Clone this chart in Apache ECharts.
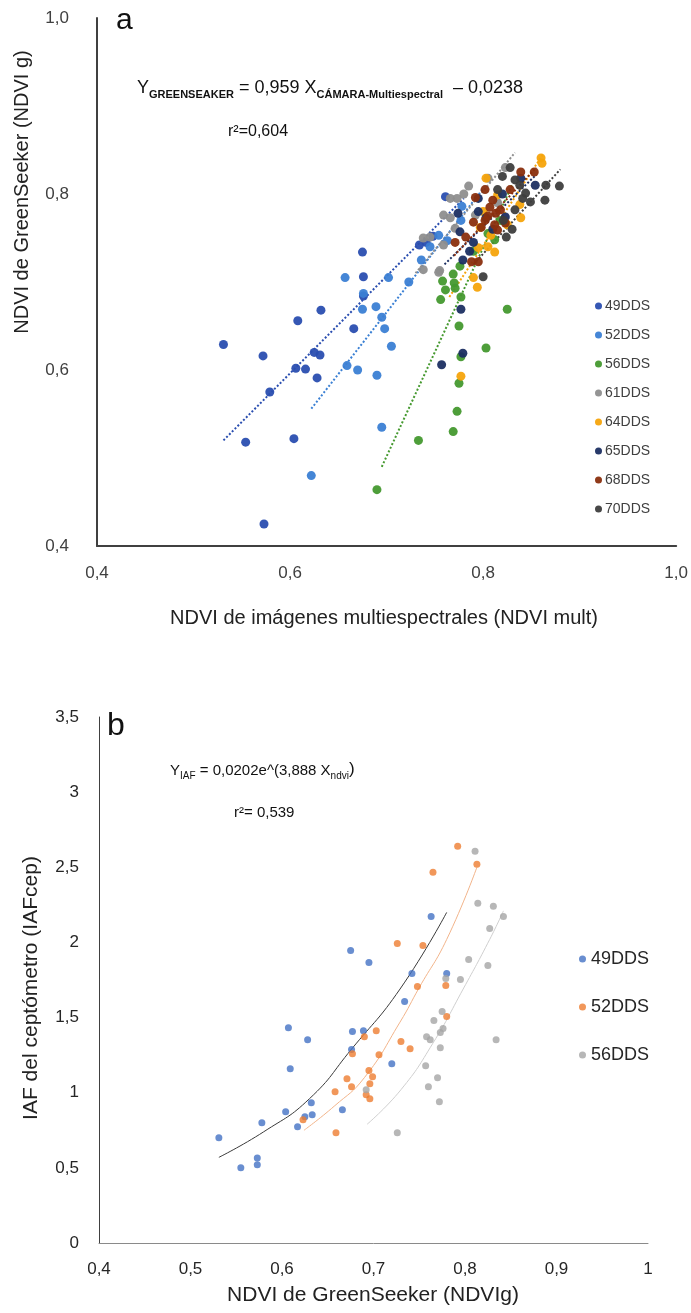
<!DOCTYPE html>
<html>
<head>
<meta charset="utf-8">
<script src="https://cdn.jsdelivr.net/npm/echarts@6/dist/echarts.min.js"></script>
<style>
html,body{margin:0;padding:0;background:#fff;}
#chartA{position:absolute;left:0;top:0;width:691px;height:650px;}
#chartB{position:absolute;left:0;top:650px;width:691px;height:663px;}
</style>
</head>
<body>
<div id="chartA"></div>
<div id="chartB"></div>
<script>
// ---- grafico a: NDVI GreenSeeker vs NDVI multiespectral ----
var namesA = ["49DDS", "52DDS", "56DDS", "61DDS", "64DDS", "65DDS", "68DDS", "70DDS"];
var colorsA = ["#2a4eb0", "#3b80d4", "#45992f", "#8e8e8e", "#f5a40c", "#1c2f62", "#8a2f0e", "#3e3e3e"];

var dds49 = [[0.531,0.629],[0.572,0.616],[0.608,0.656],[0.632,0.668],[0.675,0.734],[0.676,0.706],[0.676,0.684],[0.666,0.647],[0.625,0.620],[0.631,0.617],[0.606,0.602],[0.616,0.601],[0.628,0.591],[0.579,0.575],[0.554,0.518],[0.604,0.522],[0.573,0.425],[0.734,0.742],[0.741,0.745],[0.761,0.797],[0.748,0.752]];
var dds52 = [[0.657,0.705],[0.676,0.687],[0.675,0.669],[0.689,0.672],[0.659,0.605],[0.670,0.600],[0.690,0.594],[0.622,0.480],[0.695,0.660],[0.698,0.647],[0.705,0.627],[0.695,0.535],[0.702,0.705],[0.723,0.700],[0.736,0.725],[0.754,0.753],[0.763,0.747],[0.777,0.770],[0.778,0.786],[0.745,0.740]];
var dds56 = [[0.776,0.718],[0.769,0.709],[0.758,0.701],[0.770,0.699],[0.771,0.693],[0.761,0.691],[0.777,0.683],[0.756,0.680],[0.775,0.650],[0.825,0.669],[0.777,0.615],[0.775,0.585],[0.773,0.553],[0.769,0.530],[0.733,0.520],[0.690,0.464],[0.803,0.625],[0.790,0.735],[0.805,0.755],[0.818,0.770],[0.812,0.748]];
var dds61 = [[0.785,0.809],[0.773,0.795],[0.766,0.795],[0.805,0.818],[0.823,0.830],[0.759,0.776],[0.766,0.773],[0.771,0.761],[0.792,0.776],[0.738,0.714],[0.754,0.711],[0.745,0.751],[0.759,0.742],[0.755,0.713],[0.780,0.800],[0.815,0.790],[0.738,0.750]];
var dds64 = [[0.860,0.841],[0.861,0.835],[0.803,0.818],[0.815,0.799],[0.838,0.788],[0.839,0.773],[0.797,0.762],[0.808,0.753],[0.795,0.739],[0.812,0.734],[0.794,0.694],[0.805,0.740],[0.777,0.593],[0.800,0.780],[0.825,0.765],[0.790,0.705]];
var dds65 = [[0.795,0.795],[0.839,0.818],[0.854,0.810],[0.823,0.774],[0.803,0.773],[0.776,0.757],[0.790,0.745],[0.779,0.725],[0.786,0.735],[0.777,0.669],[0.757,0.606],[0.779,0.619],[0.774,0.778],[0.820,0.800],[0.810,0.760],[0.795,0.780]];
var dds68 = [[0.839,0.825],[0.853,0.825],[0.802,0.805],[0.810,0.793],[0.792,0.796],[0.807,0.785],[0.813,0.778],[0.802,0.770],[0.798,0.762],[0.782,0.751],[0.771,0.745],[0.795,0.723],[0.788,0.723],[0.815,0.759],[0.823,0.767],[0.818,0.782],[0.805,0.775],[0.828,0.805],[0.790,0.768],[0.812,0.765]];
var dds70 = [[0.828,0.830],[0.833,0.816],[0.849,0.791],[0.864,0.793],[0.865,0.810],[0.879,0.809],[0.815,0.805],[0.824,0.751],[0.841,0.795],[0.844,0.801],[0.800,0.706],[0.821,0.770],[0.833,0.782],[0.820,0.820],[0.838,0.810],[0.830,0.760]];

// lineas de tendencia (extremos)
var trend49 = [[0.531,0.520],[0.780,0.795]];
var trend52 = [[0.622,0.556],[0.800,0.806]];
var trend56 = [[0.695,0.490],[0.830,0.810]];
var trend61 = [[0.730,0.710],[0.833,0.847]];
var trend64 = [[0.765,0.683],[0.862,0.845]];
var trend65 = [[0.760,0.720],[0.855,0.822]];
var trend68 = [[0.770,0.730],[0.855,0.830]];
var trend70 = [[0.790,0.720],[0.880,0.828]];

var pointsA = [dds49, dds52, dds56, dds61, dds64, dds65, dds68, dds70];
var trendsA = [trend49, trend52, trend56, trend61, trend64, trend65, trend68, trend70];

// ---- grafico b: IAF vs NDVI GreenSeeker ----
var namesB = ["49DDS", "52DDS", "56DDS"];
var colorsB = ["#4472c4", "#ed7d31", "#a5a5a5"];
var curveColorsB = ["#3a3a3a", "#f2b48a", "#cfcfcf"];

var b49 = [[0.675,1.947],[0.695,1.867],[0.607,1.433],[0.677,1.407],[0.689,1.413],[0.628,1.353],[0.676,1.287],[0.609,1.16],[0.720,1.193],[0.632,0.933],[0.604,0.873],[0.666,0.887],[0.578,0.80],[0.625,0.84],[0.633,0.853],[0.617,0.773],[0.531,0.70],[0.555,0.50],[0.573,0.52],[0.573,0.565],[0.763,2.173],[0.742,1.793],[0.780,1.793],[0.734,1.607]];
var b52 = [[0.792,2.64],[0.813,2.52],[0.765,2.467],[0.726,1.993],[0.754,1.98],[0.748,1.707],[0.779,1.713],[0.780,1.507],[0.730,1.34],[0.740,1.293],[0.703,1.413],[0.690,1.373],[0.677,1.26],[0.706,1.253],[0.671,1.093],[0.695,1.147],[0.699,1.107],[0.696,1.06],[0.676,1.04],[0.658,1.007],[0.692,0.987],[0.696,0.96],[0.623,0.82],[0.659,0.733]];
var b56 = [[0.811,2.607],[0.814,2.26],[0.831,2.24],[0.842,2.173],[0.827,2.093],[0.804,1.887],[0.825,1.847],[0.779,1.76],[0.795,1.753],[0.775,1.54],[0.766,1.48],[0.776,1.427],[0.773,1.40],[0.758,1.373],[0.762,1.353],[0.773,1.30],[0.834,1.353],[0.692,1.02],[0.726,0.733],[0.757,1.18],[0.770,1.10],[0.760,1.04],[0.772,0.94]];

// curvas exponenciales
var curve49 = [[0.531,0.57],[0.58,0.74],[0.63,0.96],[0.676,1.29],[0.729,1.69],[0.78,2.20]];
var curve52 = [[0.624,0.75],[0.657,0.91],[0.69,1.10],[0.729,1.47],[0.75,1.70],[0.78,2.02],[0.813,2.50]];
var curve56 = [[0.693,0.79],[0.73,1.02],[0.765,1.33],[0.798,1.69],[0.827,2.02],[0.842,2.21]];

var pointsB = [b49, b52, b56];
var curvesB = [curve49, curve52, curve56];

var FONT = "Arial, 'Liberation Sans', sans-serif";
function coma(v, dec) {
  return v.toFixed(dec).replace(".", ",");
}

// --- chart a ---
var chartA = echarts.init(document.getElementById("chartA"));
var seriesA = [];
for (var i = 0; i < namesA.length; i++) {
  seriesA.push({
    name: namesA[i],
    type: "scatter",
    symbolSize: 9,
    itemStyle: { color: colorsA[i], opacity: 0.95 },
    data: pointsA[i],
    z: 3
  });
}
for (var j = 0; j < trendsA.length; j++) {
  seriesA.push({
    name: namesA[j] + " tend",
    type: "line",
    symbol: "none",
    lineStyle: { color: colorsA[j], width: 2, type: "dotted" },
    data: trendsA[j],
    z: 2
  });
}
chartA.setOption({
  animation: false,
  textStyle: { fontFamily: FONT },
  grid: { left: 97, top: 18, width: 582, height: 528 },
  xAxis: {
    type: "value", min: 0.4, max: 1.0, interval: 0.2,
    axisLine: { lineStyle: { color: "#404040", width: 2 } },
    axisTick: { show: false },
    splitLine: { show: false },
    axisLabel: { fontSize: 17, color: "#404040", margin: 19, formatter: function (v) { return coma(v, 1); } }
  },
  yAxis: {
    type: "value", min: 0.4, max: 1.0, interval: 0.2,
    axisLine: { show: true, lineStyle: { color: "#404040", width: 2 } },
    axisTick: { show: false },
    splitLine: { show: false },
    axisLabel: { fontSize: 17, color: "#404040", margin: 28, formatter: function (v) { return coma(v, 1); } }
  },
  legend: {
    data: namesA,
    orient: "vertical",
    left: 590, top: 294,
    itemGap: 15,
    itemWidth: 7, itemHeight: 7,
    icon: "circle",
    textStyle: { fontSize: 14, color: "#404040", padding: [0, 0, 0, -2] }
  },
  graphic: [
    { type: "text", left: 116, top: 6, style: { text: "a", font: "30px " + FONT, fill: "#111" } },
    {
      type: "text", left: 137, top: 79,
      style: {
        text: "{m|Y}{s|GREENSEAKER}{m| = 0,959 X}{s|CÁMARA-Multiespectral}{m|  – 0,0238}",
        rich: {
          m: { fontSize: 18, fontFamily: FONT, fill: "#111", lineHeight: 24, verticalAlign: "bottom" },
          s: { fontSize: 11, fontWeight: "bold", fontFamily: FONT, fill: "#111", lineHeight: 24, verticalAlign: "bottom", padding: [0, 0, -3, 0] }
        }
      }
    },
    { type: "text", left: 228, top: 124, style: { text: "r²=0,604", font: "16px " + FONT, fill: "#111" } },
    {
      type: "text", x: 22, y: 192, rotation: Math.PI / 2,
      style: { text: "NDVI de GreenSeeker (NDVI g)", font: "20px " + FONT, fill: "#222", align: "center", verticalAlign: "middle" }
    },
    {
      type: "text", x: 384, y: 618,
      style: { text: "NDVI de imágenes multiespectrales (NDVI mult)", font: "20px " + FONT, fill: "#222", align: "center", verticalAlign: "middle" }
    }
  ],
  series: seriesA
});

// --- chart b ---
var chartB = echarts.init(document.getElementById("chartB"));
var seriesB = [];
for (var k = 0; k < namesB.length; k++) {
  seriesB.push({
    name: namesB[k],
    type: "scatter",
    symbolSize: 7,
    itemStyle: { color: colorsB[k] },
    data: pointsB[k],
    z: 3
  });
  seriesB.push({
    name: namesB[k] + " curva",
    type: "line",
    smooth: true,
    symbol: "none",
    lineStyle: { color: curveColorsB[k], width: 1 },
    data: curvesB[k],
    z: 2
  });
}
chartB.setOption({
  animation: false,
  textStyle: { fontFamily: FONT },
  grid: { left: 99, top: 67, width: 549, height: 526 },
  xAxis: {
    type: "value", min: 0.4, max: 1.0, interval: 0.1,
    axisLine: { lineStyle: { color: "#8a8a8a", width: 1 } },
    axisTick: { show: false },
    splitLine: { show: false },
    axisLabel: { fontSize: 17, color: "#262626", margin: 18, formatter: function (v) { return v === 1 ? "1" : coma(v, 1); } }
  },
  yAxis: {
    type: "value", min: 0, max: 3.5, interval: 0.5,
    axisLine: { show: true, lineStyle: { color: "#404040", width: 1 } },
    axisTick: { show: false },
    splitLine: { show: false },
    axisLabel: { fontSize: 17, color: "#262626", margin: 20, formatter: function (v) { return v % 1 === 0 ? String(v) : coma(v, 1); } }
  },
  legend: {
    data: namesB,
    orient: "vertical",
    left: 574, top: 295,
    itemGap: 30,
    itemWidth: 7, itemHeight: 7,
    icon: "circle",
    textStyle: { fontSize: 18, color: "#262626" }
  },
  graphic: [
    { type: "text", left: 107, top: 60, style: { text: "b", font: "32px " + FONT, fill: "#111" } },
    {
      type: "text", left: 170, top: 111,
      style: {
        text: "{m|Y}{s|IAF}{m| = 0,0202e^(3,888 X}{s|ndvi}{p|)}",
        rich: {
          m: { fontSize: 15, fontFamily: FONT, fill: "#111", lineHeight: 22, verticalAlign: "bottom" },
          s: { fontSize: 10, fontFamily: FONT, fill: "#111", lineHeight: 22, verticalAlign: "bottom", padding: [0, 0, -3, 0] },
          p: { fontSize: 17, fontFamily: FONT, fill: "#111", lineHeight: 22, verticalAlign: "bottom" }
        }
      }
    },
    { type: "text", left: 234, top: 155, style: { text: "r²= 0,539", font: "15px " + FONT, fill: "#111" } },
    {
      type: "text", x: 31, y: 338, rotation: Math.PI / 2,
      style: { text: "IAF del ceptómetro (IAFcep)", font: "21px " + FONT, fill: "#222", align: "center", verticalAlign: "middle" }
    },
    {
      type: "text", x: 373, y: 645,
      style: { text: "NDVI de GreenSeeker (NDVIg)", font: "21px " + FONT, fill: "#222", align: "center", verticalAlign: "middle" }
    }
  ],
  series: seriesB
});
</script>
</body>
</html>
